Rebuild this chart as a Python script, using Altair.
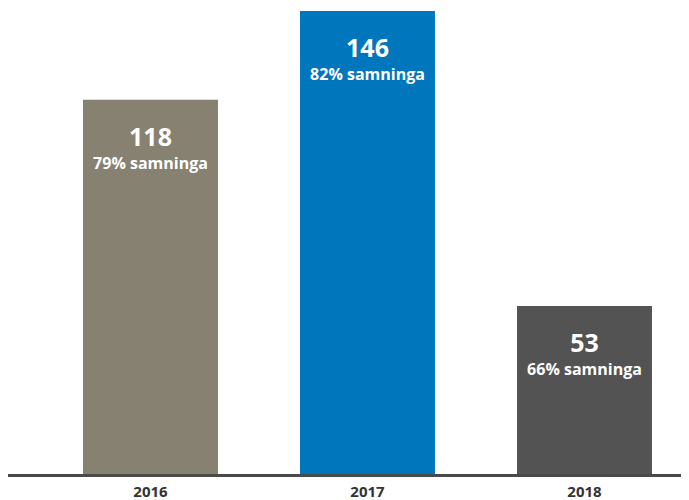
import altair as alt
import pandas as pd

years = ["2016", "2017", "2018"]
values = [118, 146, 53]
shares = ["79% samninga", "82% samninga", "66% samninga"]
colors = ["#878172", "#0077BD", "#535353"]

df = pd.DataFrame({"year": years, "value": values, "share": shares})

x = alt.X("year:N", sort=years, title=None,
          scale=alt.Scale(paddingInner=0.378, paddingOuter=0.2397, align=0.721),
          axis=alt.Axis(labelAngle=0, ticks=False, domain=False,
                        labelFont="Open Sans", labelFontWeight="bold",
                        labelFontSize=15, labelColor="#333333", labelPadding=10))
y = alt.Y("value:Q", scale=alt.Scale(domain=[0, 146], nice=False), axis=None)

base = alt.Chart(df)

bars = base.mark_bar().encode(
    x=x, y=y,
    color=alt.Color("year:N", scale=alt.Scale(domain=years, range=colors), legend=None),
)

num = base.mark_text(color="white", font="Open Sans", fontWeight="bold", fontSize=25,
                     baseline="middle", dy=38).encode(x=x, y=y, text="value:Q")
sub = base.mark_text(color="white", font="Open Sans", fontWeight="bold", fontSize=16,
                     baseline="middle", dy=64).encode(x=x, y=y, text="share:N")

baseline = base.mark_rule(color="#4a4a4a", strokeWidth=3).encode(
    x=alt.value(0), x2=alt.value(673), y=alt.value(464.5)
)

chart = (bars + num + sub + baseline).properties(
    width=673, height=463,
    padding={"left": 0, "top": 3, "right": 0, "bottom": 26},
    autosize=alt.AutoSizeParams(type="none"),
).configure_view(stroke=None)

chart.save("out.html", embed_options={"renderer": "svg", "actions": False})
